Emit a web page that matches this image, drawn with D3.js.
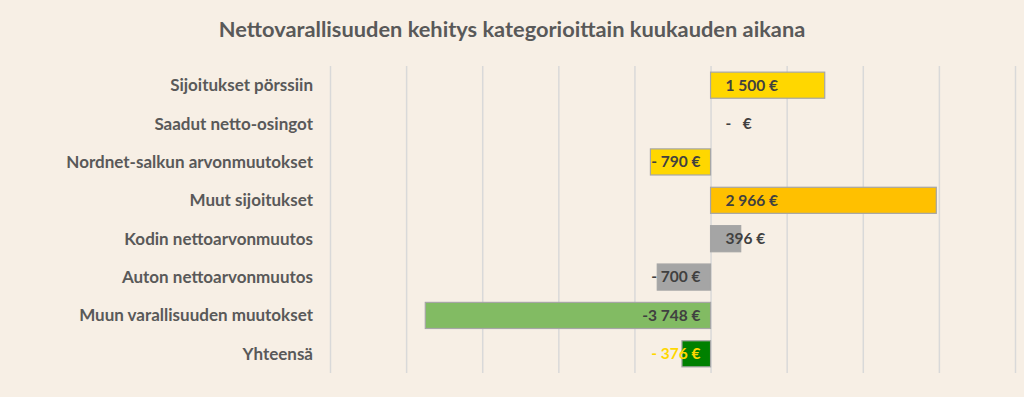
<!DOCTYPE html>
<html><head><meta charset="utf-8">
<script src="https://cdn.jsdelivr.net/npm/d3@7"></script>
<style>
html,body{margin:0;padding:0;background:#F7EFE5;}
svg{display:block;}
</style></head>
<body>
<svg id="chart" width="1024" height="397"></svg>
<script>
const title = "Nettovarallisuuden kehitys kategorioittain kuukauden aikana";
const categories = ["Sijoitukset pörssiin","Saadut netto-osingot","Nordnet-salkun arvonmuutokset","Muut sijoitukset","Kodin nettoarvonmuutos","Auton nettoarvonmuutos","Muun varallisuuden muutokset","Yhteensä"];
const values = [1500, 0, -790, 2966, 396, -700, -3748, -376];
const valueLabels = ["1 500 €","-   €","- 790 €","2 966 €","396 €","- 700 €","-3 748 €","- 376 €"];
const barColors = ["#FFD700","#FFD700","#FFD700","#FFC000","#A5A5A5","#A5A5A5","#82BB63","#008000"];
const labelColors = ["#404040","#404040","#404040","#404040","#404040","#404040","#404040","#FFD700"];
const gridTicks = [-5000,-4000,-3000,-2000,-1000,0,1000,2000,3000,4000];

const svg = d3.select("#chart");
const font = "Lato, 'Open Sans', sans-serif";

const x = d3.scaleLinear().domain([-5000,4000]).range([330,1015]);
const y = d3.scaleBand().domain(categories).range([66,373]).paddingInner(0.32).paddingOuter(0.16);

svg.append("text").attr("x",512).attr("y",37).attr("text-anchor","middle")
  .attr("font-family",font).attr("font-weight","bold").attr("font-size",21.8)
  .attr("fill","#595959").text(title);

// gridlines
const grid = svg.append("g").attr("transform","translate(0,66)")
  .call(d3.axisBottom(x).tickValues(gridTicks).tickSize(307).tickFormat(""));
grid.select(".domain").remove();
grid.selectAll("line").attr("stroke","#D9D9D9").attr("stroke-width",1.5);

// category labels
svg.append("g").selectAll("text").data(categories).join("text")
  .attr("x",313).attr("y",d=>y(d)+y.bandwidth()/2).attr("dy","0.35em")
  .attr("text-anchor","end").attr("font-family",font).attr("font-weight","bold")
  .attr("font-size",17).attr("fill","#595959").text(d=>d);

// bars
svg.append("g").selectAll("rect").data(values).join("rect")
  .attr("x",d=>x(Math.min(0,d))).attr("y",(d,i)=>y(categories[i]))
  .attr("width",d=>Math.abs(x(d)-x(0))).attr("height",y.bandwidth())
  .attr("fill",(d,i)=>barColors[i])
  .attr("stroke",(d,i)=>d===0?"none":"#A6A6A6").attr("stroke-width",1.2);

// value labels
svg.append("g").selectAll("text").data(values).join("text")
  .attr("x",d=>d<0? x(0)-10 : x(0)+15)
  .attr("y",(d,i)=>y(categories[i])+y.bandwidth()/2).attr("dy","0.35em")
  .attr("text-anchor",d=>d<0?"end":"start")
  .attr("font-family",font).attr("font-weight","bold").attr("font-size",15.5)
  .attr("fill",(d,i)=>labelColors[i]).attr("xml:space","preserve")
  .style("white-space","pre")
  .text((d,i)=>valueLabels[i]);
</script>
</body></html>
